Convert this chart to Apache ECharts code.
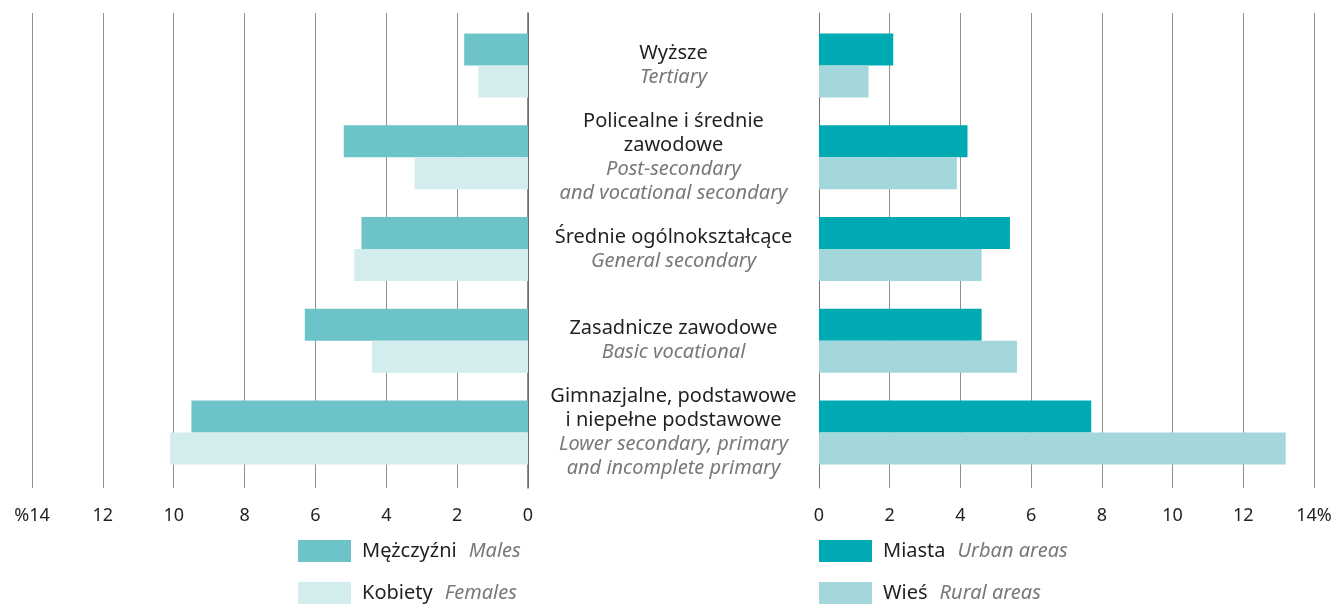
<!DOCTYPE html>
<html>
<head>
<meta charset="utf-8">
<script src="https://cdn.jsdelivr.net/npm/echarts@6/dist/echarts.min.js"></script>
<style>
  html, body { margin: 0; padding: 0; background: #fff; }
  #chart { width: 1337px; height: 606px; }
</style>
</head>
<body>
<div id="chart"></div>
<script>
// categories, top to bottom
const levelsPl = [
  'Wyższe',
  'Policealne i średnie\nzawodowe',
  'Średnie ogólnokształcące',
  'Zasadnicze zawodowe',
  'Gimnazjalne, podstawowe\ni niepełne podstawowe'
]
const levelsEn = [
  'Tertiary',
  'Post-secondary\nand vocational secondary',
  'General secondary',
  'Basic vocational',
  'Lower secondary, primary\nand incomplete primary'
]

// % values
const males = [1.8, 5.2, 4.7, 6.3, 9.5]
const females = [1.4, 3.2, 4.9, 4.4, 10.1]
const urban = [2.1, 4.2, 5.4, 4.6, 7.7]
const rural = [1.4, 3.9, 4.6, 5.6, 13.2]

const seriesEn = { 'Mężczyźni': 'Males', 'Kobiety': 'Females', 'Miasta': 'Urban areas', 'Wieś': 'Rural areas' }

const FONT = '"Noto Sans", sans-serif'
const DARK = '#231f20'
const GREY = '#77787b'

const chart = echarts.init(document.getElementById('chart'))

function tagLines(text, tag) {
  return text.split('\n').map(s => '{' + tag + '|' + s + '}').join('\n')
}

const richText = {
  pl: { fontFamily: FONT, fontSize: 20, color: DARK, lineHeight: 24 },
  en: { fontFamily: FONT, fontSize: 20, color: GREY, fontStyle: 'italic', lineHeight: 24 }
}

const legendRich = {
  pl: { fontFamily: FONT, fontSize: 20, color: DARK, padding: [0, 0, 0, 6] },
  en: { fontFamily: FONT, fontSize: 20, color: GREY, fontStyle: 'italic', padding: [0, 0, 0, 12] }
}

chart.setOption({
  animation: false,
  textStyle: { fontFamily: FONT },
  grid: [
    // bars
    { left: 32, right: 809, top: 19.6, bottom: 127.6 },
    { left: 819, right: 23, top: 19.6, bottom: 127.6 },
    // grid lines + tick labels
    { left: 32, right: 809, top: 13, bottom: 118 },
    { left: 819, right: 23, top: 13, bottom: 118 }
  ],
  xAxis: [
    { gridIndex: 0, type: 'value', min: 0, max: 14, interval: 2, inverse: true, show: false },
    { gridIndex: 1, type: 'value', min: 0, max: 14, interval: 2, show: false },
    {
      gridIndex: 2, type: 'value', min: 0, max: 14, interval: 2, inverse: true,
      axisLine: { show: false }, axisTick: { show: false },
      splitLine: { lineStyle: { color: '#8f8f8f', width: 1 } },
      axisLabel: { margin: 19, fontSize: 18, color: DARK, formatter: v => v === 14 ? '%14' : String(v) }
    },
    {
      gridIndex: 3, type: 'value', min: 0, max: 14, interval: 2,
      axisLine: { show: false }, axisTick: { show: false },
      splitLine: { lineStyle: { color: '#8f8f8f', width: 1 } },
      axisLabel: { margin: 19, fontSize: 18, color: DARK, formatter: v => v === 14 ? '14%' : String(v) }
    }
  ],
  yAxis: [
    { gridIndex: 0, type: 'category', data: levelsPl, inverse: true, show: false },
    {
      gridIndex: 1, type: 'category', data: levelsPl, inverse: true, position: 'left',
      axisLine: { show: false }, axisTick: { show: false },
      axisLabel: {
        margin: 145.5, align: 'center', rich: richText,
        formatter: (v, i) => tagLines(v, 'pl') + '\n' + tagLines(levelsEn[i], 'en')
      }
    },
    {
      gridIndex: 2, type: 'category', data: levelsPl, position: 'right',
      axisLine: { lineStyle: { color: '#666', width: 1.5 } },
      axisTick: { show: false }, axisLabel: { show: false }
    },
    {
      gridIndex: 3, type: 'category', data: levelsPl, position: 'left',
      axisLine: { lineStyle: { color: '#777', width: 1 } },
      axisTick: { show: false }, axisLabel: { show: false }
    }
  ],
  legend: [
    {
      data: ['Mężczyźni', 'Kobiety'], left: 298, top: 540, orient: 'vertical', padding: 0,
      itemWidth: 53, itemHeight: 22, itemGap: 20, icon: 'rect',
      formatter: n => '{pl|' + n + '}{en|' + seriesEn[n] + '}',
      textStyle: { rich: legendRich }
    },
    {
      data: ['Miasta', 'Wieś'], left: 819, top: 540, orient: 'vertical', padding: 0,
      itemWidth: 53, itemHeight: 22, itemGap: 20, icon: 'rect',
      formatter: n => '{pl|' + n + '}{en|' + seriesEn[n] + '}',
      textStyle: { rich: legendRich }
    }
  ],
  series: [
    { name: 'Mężczyźni', type: 'bar', xAxisIndex: 0, yAxisIndex: 0, data: males, barWidth: 32, barGap: '0%', itemStyle: { color: '#6cc4c9' } },
    { name: 'Kobiety', type: 'bar', xAxisIndex: 0, yAxisIndex: 0, data: females, barWidth: 32, barGap: '0%', itemStyle: { color: '#d3ecee' } },
    { name: 'Miasta', type: 'bar', xAxisIndex: 1, yAxisIndex: 1, data: urban, barWidth: 32, barGap: '0%', itemStyle: { color: '#00aab2' } },
    { name: 'Wieś', type: 'bar', xAxisIndex: 1, yAxisIndex: 1, data: rural, barWidth: 32, barGap: '0%', itemStyle: { color: '#a3d7db' } }
  ]
})
</script>
</body>
</html>
